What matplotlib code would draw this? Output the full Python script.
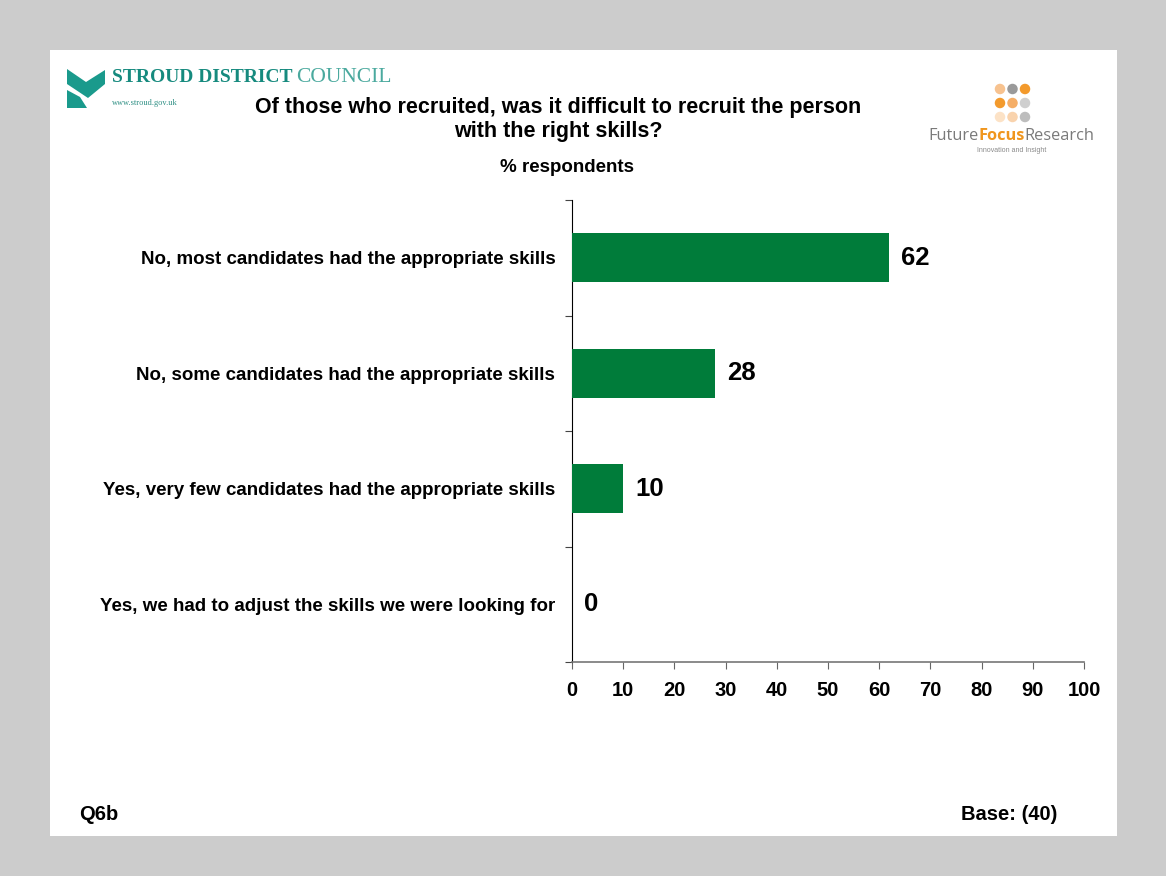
import matplotlib
matplotlib.use('Agg')
import matplotlib.pyplot as plt
from matplotlib.patches import Rectangle, Polygon, Ellipse

plt.rcParams['font.family'] = ['Liberation Sans', 'DejaVu Sans']

# survey answers, top to bottom
categories = [
    'No, most candidates had the appropriate skills',
    'No, some candidates had the appropriate skills',
    'Yes, very few candidates had the appropriate skills',
    'Yes, we had to adjust the skills we were looking for',
]
values = [62, 28, 10, 0]
x_ticks = [0, 10, 20, 30, 40, 50, 60, 70, 80, 90, 100]

W, H = 1166, 876
fig = plt.figure(figsize=(W / 100, H / 100), dpi=100)
fig.patch.set_facecolor('#cccccc')


def fx(px):
    return px / W


def fy(py):
    return 1 - py / H


# white slide panel behind everything
fig.patches.append(Rectangle((fx(50), fy(836)), fx(1117) - fx(50), fy(50) - fy(836),
                             transform=fig.transFigure, facecolor='white',
                             edgecolor='none', zorder=-5))

ax = fig.add_axes([fx(572), fy(662), fx(1084) - fx(572), fy(200) - fy(662)])
ax.patch.set_alpha(0)
ypos = list(range(len(categories)))
ax.barh(ypos, values, height=0.42, color='#007c3a', zorder=3)
ax.set_xlim(0, 100)
ax.set_ylim(len(categories) - 0.5, -0.5)
ax.set_xticks(x_ticks)
ax.set_xticklabels([str(t) for t in x_ticks], fontsize=14.5, fontweight='bold')
ax.set_yticks([i - 0.5 for i in range(len(categories) + 1)])
ax.set_yticklabels([])
ax.set_yticks(ypos, minor=True)
ax.set_yticklabels(categories, minor=True, fontsize=13.5, fontweight='bold')
ax.tick_params(axis='y', which='minor', length=0, pad=12)
ax.tick_params(axis='y', which='major', length=5, width=0.8, color='#444444')
ax.tick_params(axis='x', length=5, width=0.8, color='#666666', pad=9)
ax.spines['top'].set_visible(False)
ax.spines['right'].set_visible(False)
ax.spines['left'].set_color('black')
ax.spines['left'].set_linewidth(0.8)
ax.spines['bottom'].set_color('#777777')
ax.spines['bottom'].set_linewidth(1.2)

for y, v in zip(ypos, values):
    ax.text(v + 2.3, y, str(v), va='center', ha='left', fontsize=18.5, fontweight='bold')

# titles
fig.text(fx(558), fy(108), 'Of those who recruited, was it difficult to recruit the person',
         ha='center', va='center', fontsize=15.5, fontweight='bold')
fig.text(fx(558), fy(132), 'with the right skills?',
         ha='center', va='center', fontsize=15.5, fontweight='bold')
fig.text(fx(567), fy(168), '% respondents', ha='center', va='center',
         fontsize=13.5, fontweight='bold')

fig.text(fx(79), fy(815), 'Q6b', ha='left', va='center', fontsize=14.5, fontweight='bold')
fig.text(fx(1057), fy(815), 'Base: (40)', ha='right', va='center', fontsize=14.5,
         fontweight='bold')

# council logo
teal = '#1a9a8c'
fig.patches.append(Polygon([(fx(67), fy(69)), (fx(86), fy(82)), (fx(105), fy(70)),
                            (fx(105), fy(84)), (fx(88), fy(98)), (fx(67), fy(84))],
                           closed=True, transform=fig.transFigure, facecolor=teal,
                           edgecolor='none'))
fig.patches.append(Polygon([(fx(67), fy(90)), (fx(80), fy(97)), (fx(87), fy(108)),
                            (fx(67), fy(108))],
                           closed=True, transform=fig.transFigure, facecolor=teal,
                           edgecolor='none'))
fig.canvas.draw()
r = fig.canvas.get_renderer()
t = fig.text(fx(112), fy(78), 'STROUD DISTRICT', ha='left', va='center', fontsize=14,
             fontweight='bold', color='#168a7e', family='Liberation Serif')
xs = 112 + t.get_window_extent(r).width + 4
fig.text(fx(xs), fy(78), 'COUNCIL', ha='left', va='center', fontsize=15.5,
         color='#4aa99e', family='Liberation Serif')
fig.text(fx(112), fy(103), 'www.stroud.gov.uk', ha='left', va='center', fontsize=6,
         color='#2e8f84', family='Liberation Serif')

# research company logo
dot_cols = [['#f7c28f', '#9a9a9a', '#f39a2c'],
            ['#f39a2c', '#f5ae67', '#cfcfcf'],
            ['#fce2c6', '#f9d3ad', '#bdbdbd']]
for i, row in enumerate(dot_cols):
    for j, col in enumerate(row):
        cx, cy = 1000 + 12.5 * j, 89 + 14 * i
        fig.patches.append(Ellipse((fx(cx), fy(cy)), 10.5 / W, 10.5 / H,
                                   transform=fig.transFigure, facecolor=col,
                                   edgecolor='none'))
xcur = 928
for word, col, wt in [('Future', '#7a7a7a', 'normal'), ('Focus', '#f0961e', 'bold'),
                      ('Research', '#7a7a7a', 'normal')]:
    t = fig.text(fx(xcur), fy(136), word, ha='left', va='center', fontsize=11.8,
                 color=col, fontweight=wt, family='Open Sans')
    xcur += t.get_window_extent(r).width
fig.text(fx(1012), fy(150), 'Innovation and Insight', ha='center', va='center',
         fontsize=5, color='#8a8a8a')

fig.savefig('out.png', dpi=100, facecolor=fig.get_facecolor())
